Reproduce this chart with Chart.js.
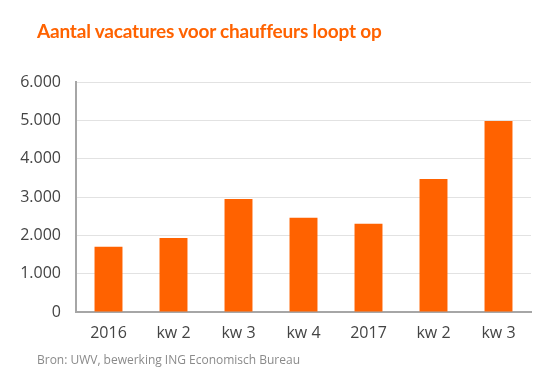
<!DOCTYPE html>
<html>
<head>
<meta charset="utf-8">
<script src="https://cdn.jsdelivr.net/npm/chart.js@4/dist/chart.umd.min.js"></script>
<style>
  html, body { margin: 0; padding: 0; background: #fff; }
  #wrap { position: relative; width: 549px; height: 379px; overflow: hidden; }
  #title { position: absolute; left: 37px; top: 18px; font-family: Lato, sans-serif; font-weight: bold; font-size: 19px; line-height: 26px; color: #FF6200; white-space: nowrap; }
  #source { position: absolute; left: 37px; top: 352px; font-family: "Open Sans", sans-serif; font-size: 12px; line-height: 16px; color: #8a8a8a; white-space: nowrap; }
  canvas { position: absolute; left: 0; top: 0; }
</style>
</head>
<body>
<div id="wrap">
  <canvas id="c" width="549" height="379"></canvas>
  <div id="title">Aantal vacatures voor chauffeurs loopt op</div>
  <div id="source">Bron: UWV, bewerking ING Economisch Bureau</div>
</div>
<script>
const categories = ["2016", "kw 2", "kw 3", "kw 4", "2017", "kw 2", "kw 3"];
const vacatures = [1700, 1930, 2950, 2460, 2300, 3470, 4980];
const yTicks = [0, 1000, 2000, 3000, 4000, 5000, 6000];

function fitWidth(id, target) {
  const el = document.getElementById(id);
  const n = el.textContent.length;
  const w = el.getBoundingClientRect().width;
  el.style.letterSpacing = ((target - w) / n) + "px";
}
fitWidth("title", 344);
fitWidth("source", 263);

new Chart(document.getElementById("c"), {
  type: "bar",
  data: {
    labels: categories,
    datasets: [{
      data: vacatures,
      backgroundColor: "#FF6200",
      borderWidth: 0,
      categoryPercentage: 1,
      barPercentage: 0.43
    }]
  },
  options: {
    responsive: false,
    animation: false,
    layout: { padding: { left: 0, right: 18, top: 82, bottom: 0 } },
    plugins: { legend: { display: false }, tooltip: { enabled: false } },
    scales: {
      x: {
        grid: { display: false, drawTicks: false },
        border: { color: "#a6a6a6", width: 2 },
        ticks: { color: "#444", font: { family: "Open Sans", size: 16 }, padding: 12 },
        afterFit: s => { s.height = 67; }
      },
      y: {
        min: 0, max: 6000,
        afterBuildTicks: s => { s.ticks = yTicks.map(v => ({ value: v })); },
        grid: { color: "#e2e2e2", lineWidth: 1, drawTicks: false },
        border: { color: "#a6a6a6", width: 2 },
        ticks: {
          color: "#444", font: { family: "Open Sans", size: 16 }, padding: 15,
          callback: v => v.toLocaleString("de-DE")
        },
        afterFit: s => { s.width = 76; }
      }
    }
  }
});
</script>
</body>
</html>
